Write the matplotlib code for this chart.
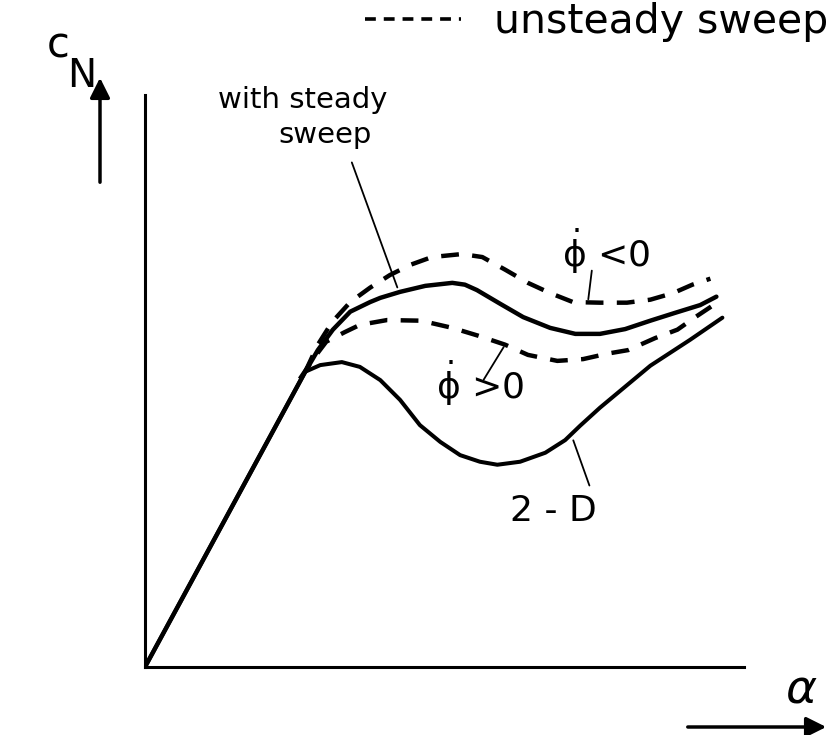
import matplotlib
matplotlib.use("Agg")
import matplotlib.pyplot as plt
from matplotlib.lines import Line2D

# curves (alpha, c_N in arbitrary units)
alpha_2d = [0, 2.67, 2.92, 3.28, 3.58, 3.92, 4.25, 4.58, 4.92, 5.25, 5.58, 5.87,
            6.25, 6.67, 7.0, 7.25, 7.58, 8.42, 9.08, 9.62]
cn_2d = [0, 4.92, 5.03, 5.08, 5.0, 4.78, 4.45, 4.03, 3.75, 3.53, 3.42, 3.37,
         3.42, 3.57, 3.78, 4.02, 4.32, 5.02, 5.45, 5.82]

alpha_steady = [0, 2.67, 2.88, 3.13, 3.42, 3.75, 3.92, 4.25, 4.67, 5.12, 5.33, 5.53,
                5.92, 6.3, 6.75, 7.17, 7.58, 8.0, 8.42, 8.83, 9.25, 9.52]
cn_steady = [0, 4.92, 5.28, 5.62, 5.92, 6.08, 6.15, 6.25, 6.35, 6.4, 6.37, 6.28,
             6.05, 5.83, 5.65, 5.55, 5.55, 5.63, 5.77, 5.9, 6.03, 6.17]

alpha_neg = [2.67, 2.88, 3.12, 3.42, 3.75, 4.08, 4.42, 4.78, 5.28, 5.62, 6.0, 6.38,
             6.75, 7.13, 7.58, 8.03, 8.42, 8.8, 9.12, 9.42]
cn_neg = [4.92, 5.37, 5.75, 6.08, 6.32, 6.53, 6.7, 6.83, 6.88, 6.83, 6.62, 6.4,
          6.23, 6.08, 6.07, 6.07, 6.12, 6.23, 6.37, 6.47]

alpha_pos = [2.58, 2.83, 3.02, 3.33, 3.58, 4.03, 4.6, 5.12, 5.55, 6.0, 6.38, 6.87,
             7.3, 7.7, 8.05, 8.5, 8.87, 9.17, 9.53]
cn_pos = [4.8, 5.17, 5.42, 5.58, 5.7, 5.78, 5.77, 5.65, 5.52, 5.37, 5.2, 5.1,
          5.13, 5.22, 5.28, 5.48, 5.62, 5.83, 6.07]

plt.rcParams['font.family'] = ['DejaVu Sans']
plt.rcParams['mathtext.fontset'] = 'dejavusans'

fig = plt.figure(figsize=(8.3, 7.35), dpi=100)
ax = fig.add_axes([145 / 830, 68 / 735, 599 / 830, 572 / 735])
ax.set_xlim(0, 9.98)
ax.set_ylim(0, 9.53)
for s in ['top', 'right']:
    ax.spines[s].set_visible(False)
for s in ['left', 'bottom']:
    ax.spines[s].set_linewidth(2.2)
ax.set_xticks([])
ax.set_yticks([])

dash = (0, (4, 3))
ax.plot(alpha_2d, cn_2d, color='black', lw=2.9, solid_capstyle='round',
        solid_joinstyle='round')
ax.plot(alpha_steady, cn_steady, color='black', lw=3.2, solid_capstyle='round',
        solid_joinstyle='round')
ax.plot(alpha_neg, cn_neg, color='black', lw=3.2, linestyle=dash)
ax.plot(alpha_pos, cn_pos, color='black', lw=3.2, linestyle=dash)

lw_lead = 1.3
ax.annotate('', xy=(4.22, 6.28), xytext=(3.43, 8.45),
            arrowprops=dict(arrowstyle='-', lw=lw_lead, color='black'))
ax.text(1.22, 9.45, 'with steady', fontsize=21, ha='left', va='center')
ax.text(2.22, 8.87, 'sweep', fontsize=21, ha='left', va='center')

ax.annotate('', xy=(7.38, 6.08), xytext=(7.45, 6.65),
            arrowprops=dict(arrowstyle='-', lw=lw_lead, color='black'))
ax.text(6.95, 6.92, r'$\dot{\mathrm{\phi}}$ <0', fontsize=26, ha='left', va='center')

ax.annotate('', xy=(6.0, 5.37), xytext=(5.62, 4.75),
            arrowprops=dict(arrowstyle='-', lw=lw_lead, color='black'))
ax.text(4.85, 4.72, r'$\dot{\mathrm{\phi}}$ >0', fontsize=26, ha='left', va='center')

ax.annotate('', xy=(7.12, 3.82), xytext=(7.42, 2.98),
            arrowprops=dict(arrowstyle='-', lw=lw_lead, color='black'))
ax.text(6.8, 2.6, '2 - D', fontsize=26, ha='center', va='center')

# legend for the dashed curves
h = Line2D([], [], color='black', lw=2.6, linestyle=(0, (3, 2.2)))
fig.legend([h], ['unsteady sweep'], loc='upper right', bbox_to_anchor=(1.0, 1.0),
           frameon=False, fontsize=29.5, handlelength=2.35, handletextpad=0.8,
           borderaxespad=0.0, borderpad=0.05)

# axis labels with arrows
fig.text(58 / 830, 1 - 45 / 735, 'c', fontsize=30, ha='center', va='center')
fig.text(82 / 830, 1 - 76 / 735, 'N', fontsize=28, ha='center', va='center')
ax.annotate('', xy=(100, 660), xytext=(100, 550), xycoords='figure pixels',
            textcoords='figure pixels',
            arrowprops=dict(arrowstyle='-|>', lw=2.5, color='black',
                            mutation_scale=30))
fig.text(801 / 830, 1 - 690 / 735, r'$\alpha$', fontsize=34, ha='center', va='center')
ax.annotate('', xy=(829, 8), xytext=(685, 8), xycoords='figure pixels',
            textcoords='figure pixels',
            arrowprops=dict(arrowstyle='-|>', lw=2.5, color='black',
                            mutation_scale=30))

fig.savefig('out.png', dpi=100)
